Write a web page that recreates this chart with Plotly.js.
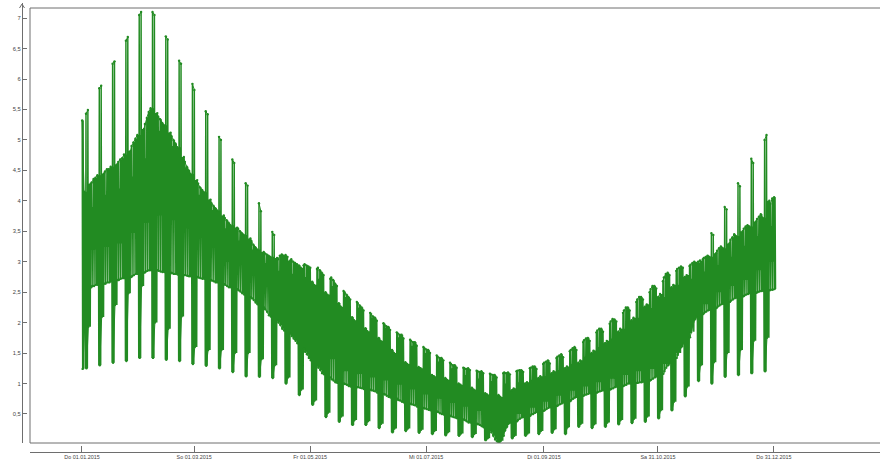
<!DOCTYPE html>
<html><head><meta charset="utf-8">
<script src="https://cdn.plot.ly/plotly-3.0.1.min.js"></script>
<style>html,body{margin:0;padding:0;background:#fff}#c{width:880px;height:464px}</style>
</head><body><div id="c"></div>
<script>
// Daily readings, one row per week starting on Thursday 01.01.2015 (Thu Fri Sat Sun Mon Tue Wed)
const dayHigh = [
5.32,4.15,5.43,5.49,4.28,4.30,4.36,
4.38,4.42,5.85,5.89,4.45,4.48,4.52,
4.52,4.56,6.25,6.29,4.60,4.64,4.68,
4.70,4.76,6.63,6.69,4.82,4.90,4.96,
5.02,5.08,7.05,7.10,5.18,5.26,5.36,
5.46,5.52,7.10,7.05,5.44,5.38,5.34,
5.28,5.24,6.70,6.65,5.12,5.06,5.00,
4.94,4.88,6.30,6.25,4.72,4.64,4.56,
4.50,4.44,5.92,5.82,4.34,4.28,4.22,
4.18,4.14,5.47,5.42,4.02,3.96,3.92,
3.88,3.84,5.05,5.00,3.76,3.72,3.68,
3.64,3.60,4.68,4.62,3.56,3.54,3.50,
3.47,3.44,4.29,4.25,3.38,3.34,3.28,
3.24,3.20,3.96,3.83,3.16,3.14,3.12,
3.10,3.08,3.49,3.44,3.06,3.04,3.10,
3.12,3.10,3.11,3.08,3.02,3.04,3.00,
2.98,2.96,2.94,2.90,2.94,2.96,2.94,
2.92,2.90,2.67,2.62,2.88,2.90,2.86,
2.82,2.78,2.50,2.46,2.72,2.74,2.70,
2.64,2.60,2.32,2.26,2.52,2.50,2.46,
2.42,2.38,2.09,2.04,2.34,2.32,2.28,
2.25,2.20,1.91,1.86,2.16,2.14,2.10,
2.08,2.03,1.75,1.70,1.99,1.97,1.94,
1.93,1.88,1.55,1.50,1.84,1.82,1.80,
1.80,1.74,1.35,1.32,1.72,1.70,1.68,
1.68,1.62,1.27,1.25,1.60,1.58,1.56,
1.55,1.50,1.14,1.12,1.46,1.44,1.42,
1.42,1.38,1.09,1.06,1.34,1.32,1.30,
1.30,1.26,1.00,0.98,1.26,1.25,1.24,
1.25,1.22,0.93,0.90,1.21,1.20,1.19,
1.20,1.17,0.84,0.82,1.16,1.15,1.14,
1.14,1.10,0.81,0.78,1.17,1.18,1.17,
1.18,1.15,0.89,0.92,1.20,1.21,1.22,
1.22,1.19,1.00,1.02,1.25,1.26,1.28,
1.28,1.24,1.09,1.12,1.32,1.34,1.36,
1.38,1.33,1.17,1.20,1.42,1.44,1.46,
1.48,1.43,1.25,1.28,1.53,1.55,1.58,
1.60,1.55,1.34,1.38,1.68,1.71,1.74,
1.75,1.70,1.50,1.54,1.84,1.87,1.90,
1.90,1.85,1.66,1.70,1.98,2.02,2.06,
2.05,2.02,1.85,1.90,2.16,2.20,2.25,
2.25,2.20,2.04,2.08,2.34,2.38,2.42,
2.42,2.38,2.26,2.30,2.50,2.55,2.60,
2.60,2.56,2.42,2.47,2.68,2.74,2.80,
2.82,2.78,2.58,2.62,2.85,2.88,2.90,
2.92,2.90,2.75,2.78,2.93,2.95,2.98,
3.00,2.98,3.00,3.02,3.04,3.06,3.08,
3.10,3.08,3.47,3.44,3.14,3.18,3.22,
3.25,3.22,3.90,3.86,3.30,3.36,3.40,
3.45,3.42,4.29,4.24,3.50,3.54,3.58,
3.60,3.58,4.69,4.62,3.66,3.70,3.74,
3.78,3.72,5.00,5.08,4.00,3.95,4.04,
4.06];
const dayLow = [
1.24,1.85,1.25,1.93,2.58,2.60,2.60,
2.62,2.62,1.30,2.09,2.64,2.64,2.66,
2.66,2.68,1.34,2.29,2.70,2.70,2.72,
2.73,2.73,1.37,2.48,2.75,2.76,2.78,
2.80,2.80,1.42,2.60,2.82,2.83,2.85,
2.86,2.86,1.42,2.00,2.86,2.85,2.84,
2.83,2.83,1.39,1.90,2.82,2.81,2.80,
2.80,2.79,1.37,2.10,2.78,2.78,2.77,
2.76,2.76,1.32,1.60,2.75,2.74,2.73,
2.72,2.72,1.29,1.55,2.70,2.69,2.68,
2.66,2.66,1.25,1.55,2.63,2.62,2.60,
2.58,2.58,1.19,1.50,2.55,2.53,2.51,
2.48,2.46,1.12,1.50,2.42,2.40,2.37,
2.33,2.30,1.11,1.40,2.25,2.22,2.18,
2.12,2.10,1.09,1.30,2.04,2.00,1.96,
1.90,1.87,1.00,1.10,1.82,1.78,1.74,
1.70,1.66,0.81,0.90,1.58,1.52,1.48,
1.42,1.38,0.65,0.72,1.30,1.26,1.22,
1.17,1.15,0.45,0.52,1.10,1.07,1.05,
1.02,1.01,0.37,0.46,1.00,0.99,0.98,
0.96,0.95,0.32,0.40,0.94,0.94,0.93,
0.92,0.91,0.32,0.38,0.90,0.89,0.88,
0.87,0.85,0.27,0.34,0.83,0.82,0.80,
0.78,0.77,0.20,0.26,0.75,0.73,0.72,
0.70,0.69,0.22,0.26,0.67,0.66,0.65,
0.64,0.62,0.19,0.24,0.60,0.59,0.58,
0.57,0.56,0.17,0.22,0.54,0.53,0.51,
0.50,0.49,0.15,0.20,0.47,0.46,0.45,
0.44,0.43,0.14,0.18,0.41,0.40,0.38,
0.36,0.36,0.12,0.17,0.34,0.33,0.32,
0.30,0.28,0.07,0.10,0.24,0.20,0.14,
0.08,0.05,0.02,0.06,0.14,0.22,0.28,
0.34,0.36,0.10,0.14,0.38,0.40,0.42,
0.44,0.45,0.14,0.18,0.47,0.49,0.50,
0.52,0.53,0.17,0.22,0.55,0.56,0.58,
0.60,0.61,0.19,0.25,0.63,0.64,0.66,
0.67,0.69,0.17,0.28,0.71,0.73,0.75,
0.77,0.78,0.29,0.34,0.80,0.81,0.82,
0.83,0.84,0.27,0.33,0.85,0.86,0.87,
0.88,0.89,0.29,0.36,0.90,0.91,0.92,
0.94,0.95,0.33,0.40,0.96,0.97,0.98,
1.00,1.00,0.35,0.42,1.01,1.01,1.02,
1.02,1.03,0.37,0.46,1.05,1.06,1.08,
1.10,1.12,0.43,0.56,1.16,1.20,1.26,
1.30,1.34,0.56,0.70,1.42,1.47,1.53,
1.60,1.66,0.79,0.95,1.76,1.84,1.95,
2.05,2.10,1.04,1.30,2.14,2.16,2.18,
2.20,2.21,1.00,1.35,2.24,2.26,2.28,
2.30,2.31,1.11,1.50,2.34,2.36,2.38,
2.40,2.41,1.14,1.55,2.43,2.44,2.46,
2.47,2.48,1.17,1.70,2.49,2.50,2.51,
2.52,2.52,1.20,1.75,2.53,2.54,2.54,
2.55];
// Level reached by the shallower swings each week (0 = none visible): lower comb and upper comb
const weekShallowLow = [3.20,3.24,3.30,3.47,3.64,3.76,3.68,3.55,3.47,3.24,3.00,3.05,2.85,2.75,0,0,0,0,1.40,1.20,1.15,1.10,1.05,0.98,0.90,0.82,0.75,0.68,0.62,0.55,0,0,0.50,0.60,0.70,0.80,0.88,0.95,1.02,1.08,1.14,1.20,1.24,1.32,1.50,1.85,2.30,2.50,2.60,2.70,2.86,3.00];
const weekShallowHigh = [3.90,4.10,4.20,4.40,4.70,5.15,4.90,4.55,4.10,3.85,3.55,3.35,3.20,2.98,2.85,2.80,2.75,2.72,2.60,2.42,2.25,2.08,1.92,1.76,1.62,1.50,1.36,1.25,1.14,1.08,1.04,1.00,1.02,1.06,1.12,1.22,1.32,1.44,1.60,1.74,1.90,2.08,2.24,2.42,2.62,2.72,2.84,2.94,3.08,3.26,3.42,3.58];
const xTickDays = ["2015-01-01","2015-03-01","2015-05-01","2015-07-01","2015-09-01","2015-10-31","2015-12-31"];
const xTickLabels = ["Do 01.01.2015","So 01.03.2015","Fr 01.05.2015","Mi 01.07.2015","Di 01.09.2015","Sa 31.10.2015","Do 31.12.2015"];
const yTickVals = [0.5,1,1.5,2,2.5,3,3.5,4,4.5,5,5.5,6,6.5,7];
const yTickLabels = ["0,5","1","1,5","2","2,5","3","3,5","4","4,5","5","5,5","6","6,5","7"];

const DAY = 86400000, T0 = Date.UTC(2015,0,1);
const xs = [], ys = [], ex = [], ey = [];
const isWeekend = i => i%7===2 || i%7===3;
dayHigh.forEach((h,i)=>{
  const r = Math.floor(i/7), c = i%7;
  let h1 = h, l1 = dayLow[i], l2 = dayLow[i];
  if((c===4||c===5||c===6) && weekShallowLow[r]) l2 = weekShallowLow[r];
  // the second swing of a weekend day only reaches the level of the adjoining weekday
  const neighbour = c===2 ? dayHigh[i-1] : c===3 ? dayHigh[i+1] : h;
  let h2 = (c===5 && weekShallowHigh[r]) ? weekShallowHigh[r] : Math.min(h, neighbour);
  // the weekend level already applies late on Friday and early on Monday
  if(c===1){ h2 = Math.min(h, dayHigh[i+1]); l2 = dayLow[i+1]; }
  if(c===4){ h1 = Math.min(h, dayHigh[i-1]); l1 = dayLow[i-1]; }
  [[0.1,h1],[0.35,l1],[0.6,h2],[0.85,l2]].forEach(p=>{ xs.push(T0+(i+p[0])*DAY); ys.push(p[1]); });
});
// continuous upper and lower edges, broken where weekdays meet the weekend
[dayHigh,dayLow].forEach((a,k)=>{
  a.forEach((v,i)=>{
    if(i>0 && isWeekend(i)!==isWeekend(i-1)){ ex.push(null); ey.push(null); }
    const off = k ? (i%7===4 ? 0.85 : 0.35) : (i%7===4 ? 0.6 : 0.1);
    ex.push(T0+(i+off)*DAY); ey.push(v);
  });
  ex.push(null); ey.push(null);
});
const G = "#228B22", AX = "#6e6e6e";
const pw = 858, ph = 449;          // plot box: x 22..880, y 3..452
const px = x => (x-22)/pw, py = y => (452-y)/ph;
Plotly.newPlot("c",[
 {type:"scatter",mode:"lines",x:xs,y:ys,line:{color:G,width:1.45},hoverinfo:"skip",cliponaxis:false},
 {type:"scatter",mode:"lines+markers",x:ex,y:ey,connectgaps:false,line:{color:G,width:1},marker:{color:G,size:2.4},hoverinfo:"skip",cliponaxis:false}
],{
  width:880,height:464,paper_bgcolor:"#fff",plot_bgcolor:"#fff",showlegend:false,
  margin:{l:22,r:0,t:3,b:12,pad:0},
  xaxis:{type:"date",domain:[px(30),1],anchor:"free",position:0,
    range:[T0-27.35*DAY,T0+419.8*DAY],tickmode:"array",tickvals:xTickDays,ticktext:xTickLabels,
    ticks:"inside",ticklen:6,tickwidth:1,tickcolor:AX,showgrid:false,zeroline:false,
    showline:true,linecolor:AX,linewidth:1,tickangle:0,
    tickfont:{family:"Liberation Sans",size:5.4,color:"#444"}},
  yaxis:{domain:[py(443),1],anchor:"free",position:0,range:[0.023,7.248],
    tickmode:"array",tickvals:yTickVals,ticktext:yTickLabels,
    ticks:"inside",ticklen:4,tickwidth:1,tickcolor:AX,showgrid:false,zeroline:false,
    showline:true,linecolor:AX,linewidth:1,
    tickfont:{family:"Liberation Sans",size:5.8,color:"#444"}},
  shapes:[
    {type:"rect",xref:"paper",yref:"paper",x0:px(30),x1:1.001,y0:py(443),y1:py(8),line:{color:AX,width:1}},
    {type:"path",xref:"paper",yref:"paper",path:`M ${px(19.5)} ${py(8)} L ${px(22)} ${py(4)} L ${px(24.5)} ${py(8)}`,line:{color:AX,width:1}}
  ]
},{displayModeBar:false,staticPlot:true});
</script></body></html>
